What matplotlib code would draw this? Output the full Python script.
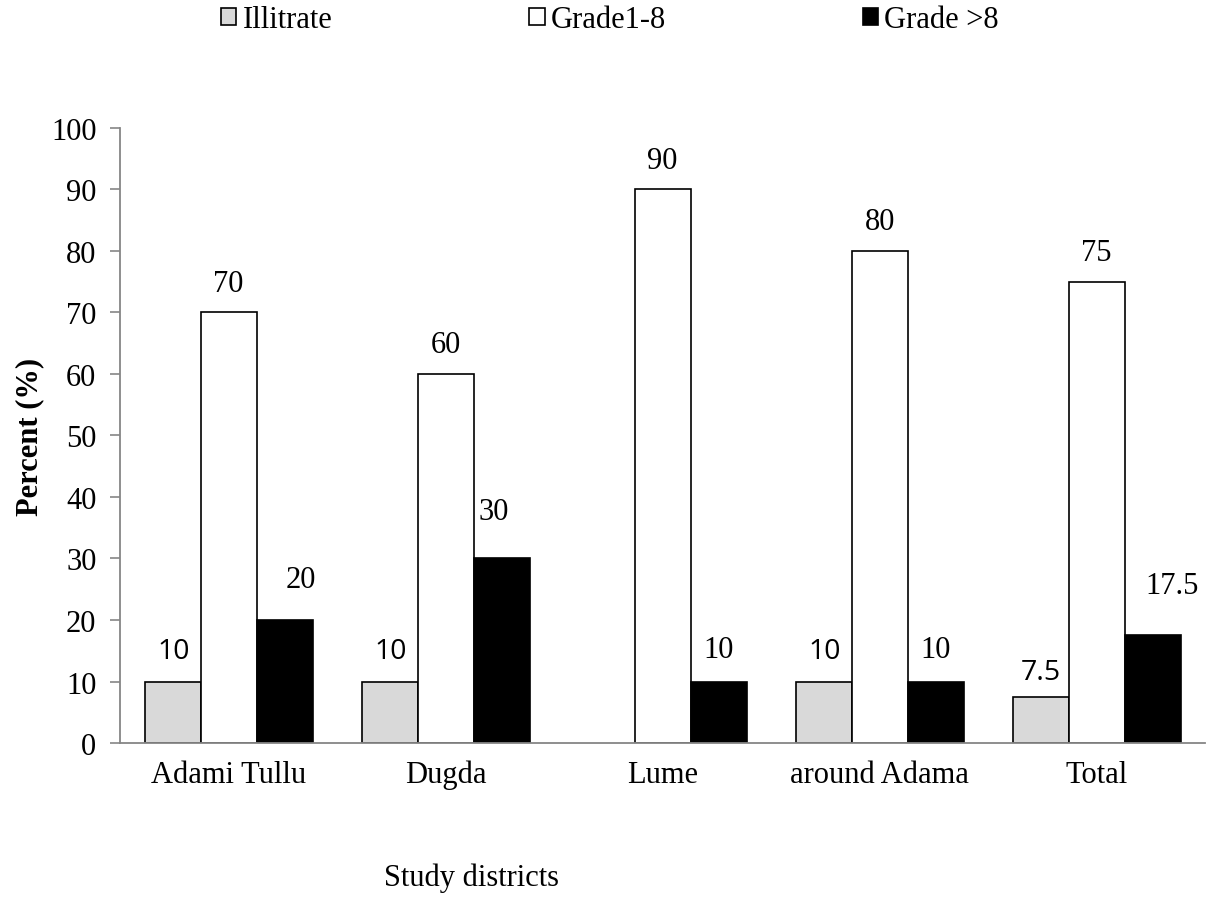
import matplotlib
matplotlib.use("Agg")
import matplotlib.pyplot as plt
import numpy as np

categories = ["Adami Tullu", "Dugda", "Lume", "around Adama", "Total"]
series_names = ["Illitrate", "Grade1-8", "Grade >8"]
illiterate = [10, 10, 0, 10, 7.5]
grade1_8 = [70, 60, 90, 80, 75]
grade_gt8 = [20, 30, 10, 10, 17.5]
yticks = [0, 10, 20, 30, 40, 50, 60, 70, 80, 90, 100]

serif = "Liberation Serif"
sans = "Open Sans"

fig = plt.figure(figsize=(12.22, 9.2), dpi=100)
ax = fig.add_axes([0.0982, 0.1913, 0.888, 0.6685])

x = np.arange(len(categories))
w = 0.258
colors = ["#d9d9d9", "#ffffff", "#000000"]
data = [illiterate, grade1_8, grade_gt8]
bars = []
for i, (vals, c, name) in enumerate(zip(data, colors, series_names)):
    lws = [1.2 if v > 0 else 0 for v in vals]
    b = ax.bar(x + (i - 1) * w, vals, w, color=c, edgecolor="black",
               linewidth=lws, label=name, zorder=2)
    bars.append(b)

fs = 22
grey_off = [(1, 22), (1, 22), (0, 22), (1, 22), (0, 18)]
for j, v in enumerate(illiterate):
    if v == 0:
        continue
    dx, dy = grey_off[j]
    ax.annotate(f"{v:g}", (x[j] - w, v), xytext=(dx, dy), textcoords="offset points",
                ha="center", va="center", fontsize=20.5, family=sans)
for j, v in enumerate(grade1_8):
    ax.annotate(f"{v:g}", (x[j], v), xytext=(0, 21), textcoords="offset points",
                ha="center", va="center", fontsize=fs, family=serif)
black_off = [(12, 29), (-6, 34), (0, 23), (0, 23), (14, 36)]
for j, v in enumerate(grade_gt8):
    dx, dy = black_off[j]
    ax.annotate(f"{v:g}", (x[j] + w, v), xytext=(dx, dy), textcoords="offset points",
                ha="center", va="center", fontsize=fs, family=serif)

ax.set_xlim(-0.5, len(categories) - 0.5)
ax.set_ylim(0, 100)
ax.set_yticks(yticks)
ax.set_yticklabels([str(t) for t in yticks], family=serif, fontsize=fs)
ax.set_xticks(x)
ax.set_xticklabels(categories, family=serif, fontsize=fs)
ax.tick_params(axis="x", length=0, pad=12)
ax.tick_params(axis="y", length=7, width=1.2, color="#868686", pad=10, direction="out")
for s in ["top", "right"]:
    ax.spines[s].set_visible(False)
for s in ["left", "bottom"]:
    ax.spines[s].set_color("#868686")
    ax.spines[s].set_linewidth(1.3)

ax.set_ylabel("Percent (%)", family=serif, fontsize=fs, fontweight="bold", labelpad=5)
fig.text(472 / 1222, 1 - 878 / 920, "Study districts", family=serif, fontsize=fs,
         ha="center", va="center")

leg = fig.legend(handles=bars, labels=series_names, loc="center left",
                 bbox_to_anchor=(221 / 1222, 1 - 21 / 920), ncol=3, frameon=False,
                 prop={"family": serif, "size": fs}, handlelength=0.5, handleheight=0.5,
                 handletextpad=0.2, columnspacing=6.45, borderpad=0, borderaxespad=0)

fig.savefig("out.png", dpi=100, facecolor="white")
